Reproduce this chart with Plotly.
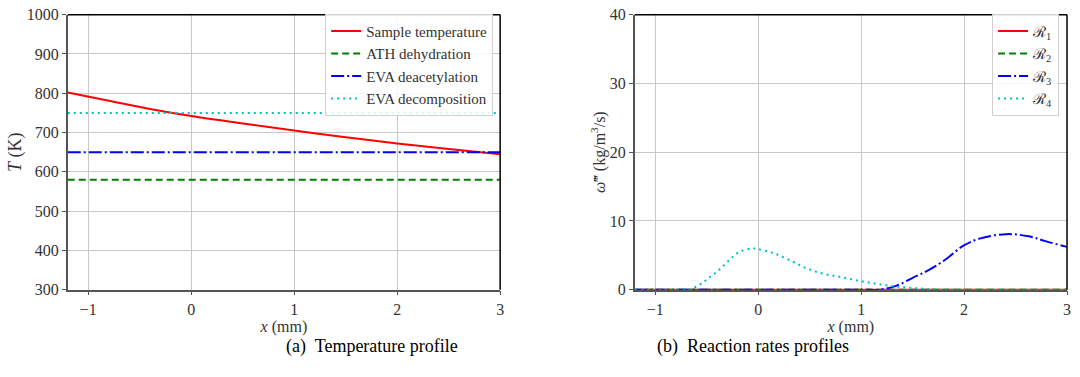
import plotly.graph_objects as go

# ---- data: temperature profile ----
x_temp = [-1.2, -0.8, -0.4, 0.0, 0.5, 1.0, 1.5, 2.0, 2.5, 3.0]
T_sample = [802, 781, 760, 742, 723, 705, 688, 672, 658, 645]
x_const = [-1.2, 3.0]
T_ath = [580, 580]
T_deacet = [650, 650]
T_decomp = [750, 750]

# ---- data: reaction rates ----
x_zero = [-1.2, 3.0]
R1 = [0, 0]
R2 = [0, 0]
x_R3 = [-1.2, 1.0, 1.18, 1.34, 1.5, 1.66, 1.83, 1.99, 2.15, 2.41, 2.63, 2.79, 3.0]
R3 = [0, 0, 0.02, 0.56, 1.72, 2.88, 4.5, 6.36, 7.43, 8.08, 7.76, 7.06, 6.23]
x_R4 = [-1.2, -0.75, -0.66, -0.56, -0.48, -0.38, -0.29, -0.19, -0.06, 0.0, 0.15, 0.31,
        0.47, 0.64, 0.8, 0.96, 1.12, 1.28, 1.44, 1.66, 1.99, 3.0]
R4 = [0, 0, 0.1, 0.8, 1.72, 2.88, 4.18, 5.43, 5.99, 5.9, 5.3, 4.27,
      3.1, 2.3, 1.86, 1.35, 0.93, 0.56, 0.33, 0.09, 0.0, 0.0]

temp_names = ["Sample temperature", "ATH dehydration", "EVA deacetylation", "EVA decomposition"]
rate_names = ["ℛ<sub>1</sub>", "ℛ<sub>2</sub>", "ℛ<sub>3</sub>", "ℛ<sub>4</sub>"]
x_tickvals = [-1, 0, 1, 2, 3]
x_ticktext = ["−1", "0", "1", "2", "3"]
T_tickvals = [300, 400, 500, 600, 700, 800, 900, 1000]
R_tickvals = [0, 10, 20, 30, 40]

RED, GREEN, BLUE, CYAN = "#ff0000", "#008000", "#0000ff", "#00bfbf"
DASH = "7px,4px"
DASHDOT = "13px,3px,2px,3px"
DOT = "2px,4px"

W, H = 1080, 377
FONT = "Liberation Serif"

fig = go.Figure()

def add(x, y, name, color, dash, xa, ya, legend, shape="linear"):
    fig.add_trace(go.Scatter(x=x, y=y, name=name, mode="lines",
                             line=dict(color=color, width=2, dash=dash, shape=shape),
                             xaxis=xa, yaxis=ya, legend=legend))

add(x_temp, T_sample, temp_names[0], RED, "solid", "x", "y", "legend", "spline")
add(x_const, T_ath, temp_names[1], GREEN, DASH, "x", "y", "legend")
add(x_const, T_deacet, temp_names[2], BLUE, DASHDOT, "x", "y", "legend")
add(x_const, T_decomp, temp_names[3], CYAN, DOT, "x", "y", "legend")

add(x_zero, R1, rate_names[0], RED, "solid", "x2", "y2", "legend2")
add(x_zero, R2, rate_names[1], GREEN, DASH, "x2", "y2", "legend2")
add(x_R3, R3, rate_names[2], BLUE, DASHDOT, "x2", "y2", "legend2", "spline")
add(x_R4, R4, rate_names[3], CYAN, DOT, "x2", "y2", "legend2", "spline")

def px_x(p):
    return p / W

def px_y(p):
    return 1 - p / H

dom1 = [px_x(68), px_x(502)]
dom2 = [px_x(637), px_x(1071)]
ydom = [px_y(295), px_y(7)]

axis_common = dict(showgrid=True, gridcolor="#c8c8c8", gridwidth=1, zeroline=False,
                   showline=True, linecolor="#555555", linewidth=1.5,
                   ticks="outside", ticklen=4, tickcolor="#555555",
                   ticklabeloverflow="allow",
                   tickfont=dict(family=FONT, size=16, color="#333333"))

fig.update_layout(
    width=W, height=H,
    margin=dict(l=0, r=0, t=0, b=0),
    paper_bgcolor="white", plot_bgcolor="white",
    font=dict(family=FONT, color="#333333"),
    showlegend=True,
    xaxis=dict(domain=dom1, range=[-1.2, 3], tickvals=x_tickvals, ticktext=x_ticktext, anchor="y",
               title=dict(text="<i>x</i> (mm)", font=dict(size=16), standoff=3), **axis_common),
    yaxis=dict(domain=ydom, range=[300, 1000], tickvals=T_tickvals, anchor="x",
               title=dict(text="<i>T</i> (K)", font=dict(size=18), standoff=0), **axis_common),
    xaxis2=dict(domain=dom2, range=[-1.2, 3], tickvals=x_tickvals, ticktext=x_ticktext, anchor="y2",
                title=dict(text="<i>x</i> (mm)", font=dict(size=16), standoff=3), **axis_common),
    yaxis2=dict(domain=ydom, range=[0, 40], tickvals=R_tickvals, anchor="x2",
                title=dict(text="<i>ω̃</i>‴ (kg/m<sup>3</sup>/s)", font=dict(size=16), standoff=0),
                **axis_common),
    legend=dict(x=px_x(495), y=px_y(6), xanchor="right", yanchor="top",
                bgcolor="rgba(255,255,255,0.85)", bordercolor="#d0d0d0", borderwidth=1,
                font=dict(family=FONT, size=15, color="#333333"), itemwidth=30),
    legend2=dict(x=px_x(1063), y=px_y(6), xanchor="right", yanchor="top",
                 bgcolor="rgba(255,255,255,0.85)", bordercolor="#d0d0d0", borderwidth=1,
                 font=dict(family=FONT, size=15, color="#333333"), itemwidth=30),
)

# black top/right spines
for xd in (dom1, dom2):
    fig.add_shape(type="line", xref="paper", yref="paper", x0=xd[0], x1=xd[1], y0=ydom[1], y1=ydom[1],
                  line=dict(color="black", width=1.5))
    fig.add_shape(type="line", xref="paper", yref="paper", x0=xd[1], x1=xd[1], y0=ydom[0], y1=ydom[1],
                  line=dict(color="black", width=1.5))

# captions
fig.add_annotation(x=(dom1[0] + dom1[1]) / 2, y=px_y(355), xref="paper", yref="paper",
                   yanchor="middle", text="(a)  Temperature profile", showarrow=False,
                   font=dict(family=FONT, size=18, color="black"))
fig.add_annotation(x=(dom2[0] + dom2[1]) / 2, y=px_y(355), xref="paper", yref="paper",
                   yanchor="middle", text="(b)  Reaction rates profiles", showarrow=False,
                   font=dict(family=FONT, size=18, color="black"))

fig.write_html("out.html", config={"displayModeBar": False},
               post_script="document.body.style.margin='0';")
